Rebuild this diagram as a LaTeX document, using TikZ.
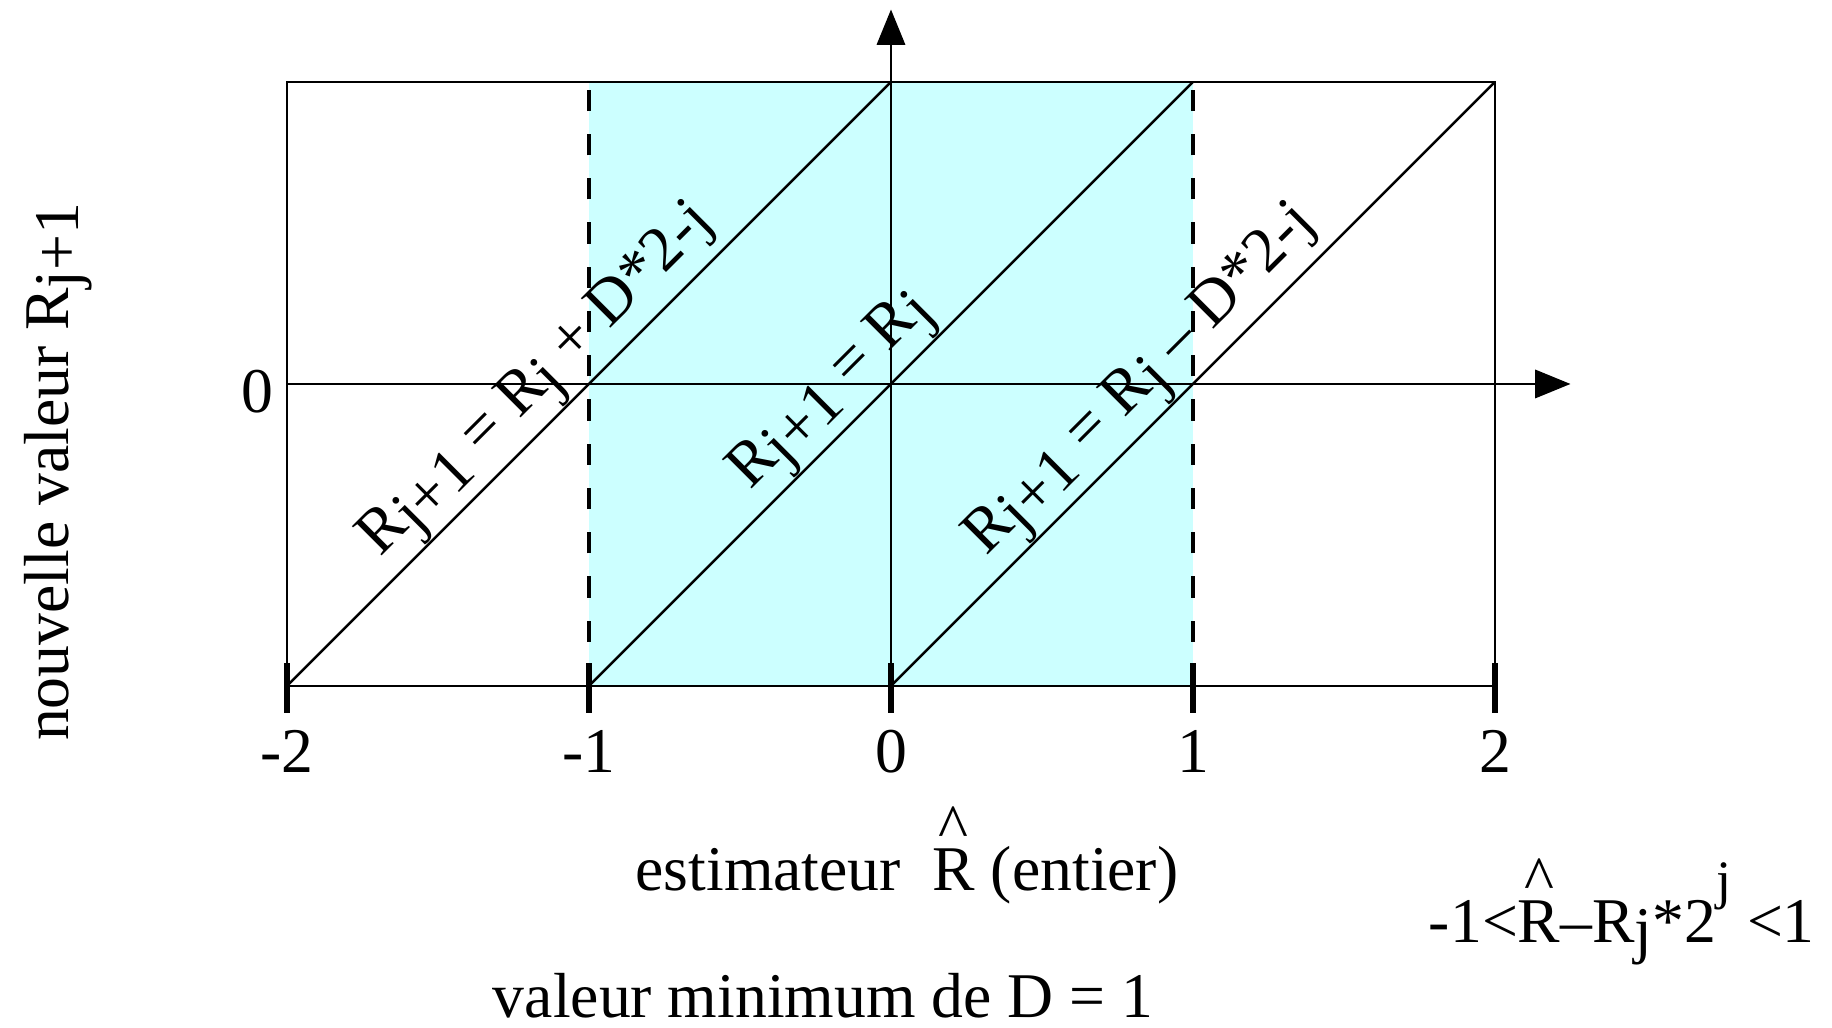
\documentclass[tikz,border=0pt]{standalone}
\usepackage{graphicx}
\usepackage{fontspec}
\setmainfont{Liberation Serif}
\usetikzlibrary{arrows.meta}

\definecolor{cyanpale}{RGB}{204,255,255}
% R avec chapeau, indice abaisse
\newcommand{\chapeau}{\leavevmode\rlap{\hbox to 0.667em{\hss\raisebox{0.65em}{\textasciicircum}\hss}}R}
\newcommand{\indj}[1]{\raisebox{-0.15em}{#1}}

\begin{document}
\begin{tikzpicture}[x=3cm,y=3cm,
    every node/.style={font=\fontsize{18}{22}\selectfont},
    trait/.style={line width=0.7pt},
    grad/.style={line width=1.7pt},
    tirets/.style={line width=0.9pt, dash pattern=on 6pt off 6.5pt},
    axe/.style={line width=0.7pt, -{Triangle[length=10pt,width=8pt]}},
    etiq/.style={sloped, anchor=south, inner sep=0pt, pos=0.46}]
  \useasboundingbox (-2.9503,-2.1325) rectangle (3.1159,1.2715);
  \fill[cyanpale] (-1,-1) rectangle (1,1);

  % coins et graduations
  \foreach \x/\n in {-2/a,-1/b,0/c,1/d,2/e} {
    \coordinate (\n0) at (\x,-1);
    \coordinate (\n1) at (\x,1);
    \coordinate (\n g) at (\x,-0.924);
    \coordinate (\n h) at (\x,-1.089);
  }
  \coordinate (xg) at (-2,0);
  \coordinate (xd) at (2.25,0);
  \coordinate (yh) at (0,1.24);

  \draw[trait] (a0) -- (e0);
  \draw[trait] (a0) -- (a1) -- (e1) -- (e0);
  \draw[tirets] (b0) -- (b1);
  \draw[tirets] (d0) -- (d1);
  \draw[axe] (xg) -- (xd);
  \draw[axe] (c0) -- (yh);
  \foreach \n in {a,b,c,d,e}
    \draw[grad] (\n g) -- (\n h);

  % droites
  \draw[trait] (a0) -- node[etiq]{R\indj{j+1} = R\indj{j} + D*2-j} (c1);
  \draw[trait] (b0) -- node[etiq, pos=0.445]{R\indj{j+1} = R\indj{j}} (d1);
  \draw[trait] (c0) -- node[etiq]{R\indj{j+1} = R\indj{j} -- D*2-j} (e1);

  % textes
  \foreach \x/\n/\t in {-2/a/-2,-1/b/-1,0/c/0,1/d/1,2/e/2}
    \node[anchor=base] (lab\n) at (\x,-1.288) {\t};
  \node[anchor=base] (zero) at (-2.099,-0.096) {0};
  \node[rotate=90, anchor=base] (ylab) at (-2.722,-0.291) {nouvelle valeur R\indj{j+1}};
  \node[anchor=base] (xlab) at (0.053,-1.676) {estimateur\ \ \chapeau\ (entier)};
  \node[anchor=base] (dmin) at (-0.225,-2.099) {valeur minimum de D = 1};
  \node[anchor=base west] (ineg) at (1.740,-1.848)
    {-1<\chapeau--R\indj{j}*2\raisebox{0.68em}{\scalebox{0.85}{j}} <1};
\end{tikzpicture}
\end{document}
